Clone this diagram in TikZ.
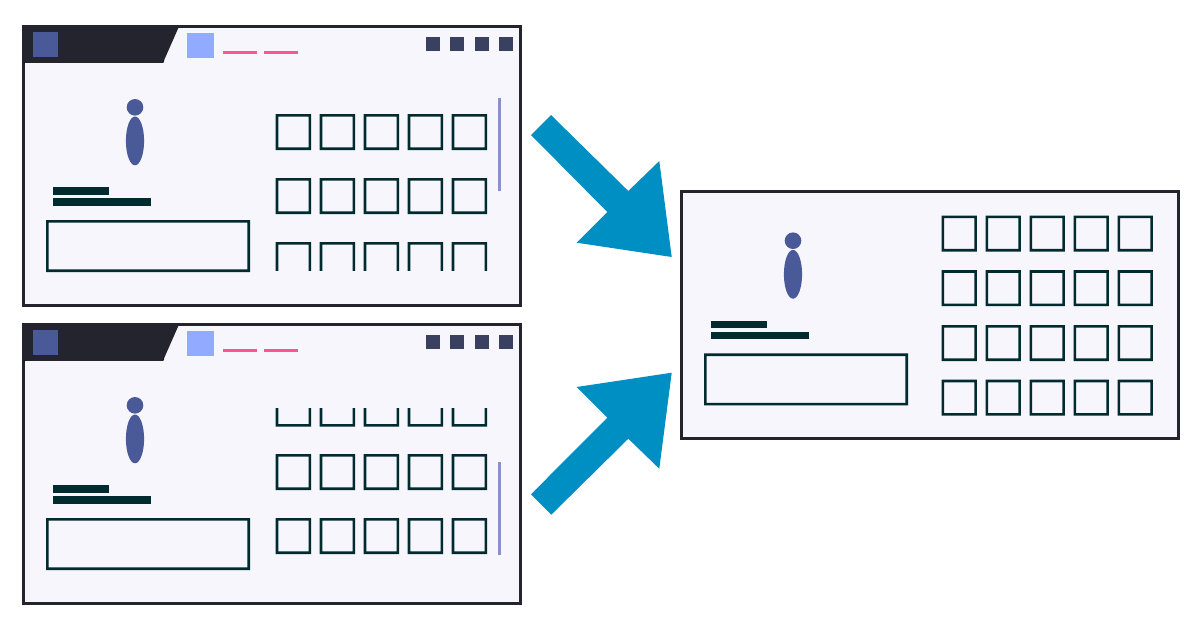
\documentclass[tikz,border=0pt]{standalone}
\definecolor{panelbg}{HTML}{F6F6FC}
\definecolor{frame}{HTML}{24242F}
\definecolor{steel}{HTML}{4A5A99}
\definecolor{sky}{HTML}{92AAFF}
\definecolor{rose}{HTML}{FF5590}
\definecolor{slate}{HTML}{3A4160}
\definecolor{ink}{HTML}{022B30}
\definecolor{lilac}{HTML}{8A90CC}
\definecolor{flow}{HTML}{008FC3}
\tikzset{
  panel/.style={draw=frame,fill=panelbg,line width=3pt,miter limit=10},
  cell/.style={fill=ink,draw=none,even odd rule},
  flowarrow/.style={fill=flow,draw=none},
  barfill/.style={fill=ink,draw=none},
  persona/.style={fill=steel,draw=none},
}
% person, two bars and input box; #1,#2 offset of the group
\newcommand{\profileblock}[2]{%
  \begin{scope}[shift={(#1,#2)}]
    \fill[persona] (135,107.3) circle[radius=8.3];
    \fill[persona] (135,140.9) ellipse[x radius=9.1,y radius=24.4];
    \fill[barfill] (53,187.3) rectangle (108.8,194.6);
    \fill[barfill] (53,198.3) rectangle (150.8,205.6);
    \fill[cell] (46,220) rectangle (250,272) (48.6,222.6) rectangle (247.4,269.4);
  \end{scope}}
% title bar of a window; #1 vertical offset
\newcommand{\titlebar}[1]{%
  \begin{scope}[shift={(0,#1)}]
    \fill[frame] (23.5,26.5) -- (179,26.5) -- (163,62.7) -- (23.5,62.7) -- cycle;
    \draw[black,line width=0.6pt] (23.5,62.6) -- (163,62.6) -- (164,60.4);
    \fill[steel] (33,32.4) rectangle (57.7,57);
    \fill[sky] (187,33.4) rectangle (214,58.3);
    \fill[rose] (223,51.2) rectangle (257,54.1);
    \fill[rose] (264,51.2) rectangle (298,54.1);
    \foreach \qx in {426,450.3,474.7,499}
      \fill[slate] (\qx,37.3) rectangle ++(14,14);
  \end{scope}}
% row of five cells; #1 left x, #2 top y of the outer edge
\newcommand{\cellrow}[2]{%
  \foreach \qi in {0,1,2,3,4}
    \fill[cell] ({#1+44*\qi},{#2}) rectangle ++(35.4,36)
      ({#1+44*\qi+2.6},{#2+2.6}) rectangle ++(30.2,30.8);}
\begin{document}
\begin{tikzpicture}[x=1pt,y=-1pt]
  \useasboundingbox (0,0) rectangle (1200,630);
  \fill[white] (0,0) rectangle (1200,630);

  % upper window
  \draw[panel] (23.5,26.5) rectangle (520.8,305.3);
  \titlebar{0}
  \profileblock{0}{0}
  \cellrow{275.7}{114}
  \cellrow{275.7}{178}
  \begin{scope}
    \clip (270,236) rectangle (495,270.8);
    \cellrow{275.7}{242}
  \end{scope}
  \fill[lilac] (498,98) rectangle (501,191);

  % lower window
  \draw[panel] (23.5,324.5) rectangle (520.8,603.3);
  \titlebar{298}
  \profileblock{0}{298}
  \begin{scope}
    \clip (270,408) rectangle (495,432);
    \cellrow{275.7}{390.6}
  \end{scope}
  \cellrow{275.7}{454}
  \cellrow{275.7}{518}
  \fill[lilac] (498,462) rectangle (501,555);

  % merged window
  \draw[panel] (681.5,191.5) rectangle (1178.6,438.5);
  \profileblock{658}{133.4}
  \cellrow{941.5}{215.5}
  \cellrow{941.5}{270.2}
  \cellrow{941.5}{325}
  \cellrow{941.5}{379.7}

  % arrows
  \fill[flowarrow] (551,115) -- (628.3,191) -- (659.3,161) -- (671.7,257)
    -- (576.7,242.7) -- (607.3,212) -- (531,135) -- cycle;
  \fill[flowarrow] (531,494.3) -- (607.3,417.7) -- (576.7,387) -- (671.7,372.7)
    -- (659.3,468.7) -- (628.3,438.7) -- (551.3,514.7) -- cycle;
\end{tikzpicture}
\end{document}
